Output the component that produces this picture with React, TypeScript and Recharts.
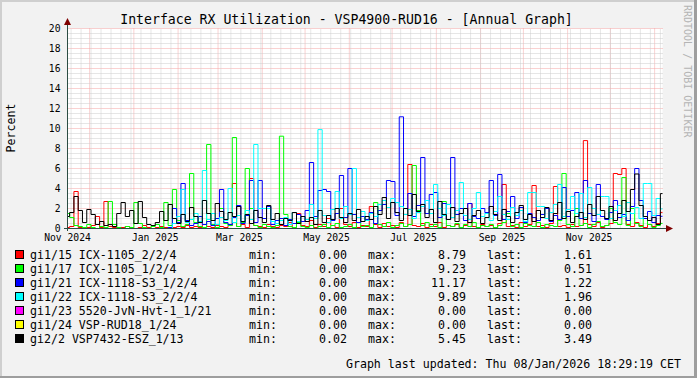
import { LineChart, Line, XAxis, YAxis, CartesianGrid, ReferenceLine } from "recharts";

// days counted from 1 Nov 2024; one sample every 3 days
const START_DAY = 14.5;
const STEP_DAYS = 3;
const END_DAY = 431.5;

const labelDays = [14.5, 76, 135, 196, 257, 319, 380];
const labelNames = ["Nov 2024", "Jan 2025", "Mar 2025", "May 2025", "Jul 2025", "Sep 2025", "Nov 2025"];
const monthStarts = [30, 61, 92, 120, 151, 181, 212, 242, 273, 304, 334, 365, 395, 426];
const yTicks = [0, 2, 4, 6, 8, 10, 12, 14, 16, 18, 20];

const red = [
  0.1, 0.2, 3.7, 0.1, 0.0, 0.1, 0.3, 1.2, 0.1, 2.7,
  0.2, 0.1, 0.0, 0.1, 0.2, 0.1, 0.0, 0.1, 0.3, 0.1,
  0.0, 0.1, 0.2, 0.1, 0.0, 0.1, 0.2, 0.1, 0.3, 0.1,
  0.2, 0.1, 0.4, 0.2, 0.1, 0.3, 0.2, 0.1, 0.3, 4.5,
  0.2, 0.4, 0.1, 5.0, 0.3, 0.2, 0.1, 0.4, 0.2, 0.1,
  0.3, 0.2, 0.6, 0.1, 1.5, 0.3, 0.2, 0.8, 0.1, 0.4,
  0.2, 1.0, 0.3, 0.1, 2.0, 0.4, 0.2, 0.6, 0.1, 0.3,
  0.2, 2.2, 0.4, 0.1, 0.5, 0.2, 0.3, 0.1, 0.6, 0.2,
  6.4, 0.3, 0.2, 0.5, 0.1, 0.4, 0.2, 0.6, 0.1, 0.3,
  0.2, 0.4, 0.1, 0.3, 2.5, 0.2, 0.1, 0.4, 0.2, 0.3,
  0.1, 0.5, 4.4, 0.2, 0.3, 0.1, 0.6, 0.2, 0.4, 4.3,
  0.2, 0.3, 0.1, 0.5, 4.2, 0.2, 0.3, 0.1, 0.4, 0.2,
  0.3, 8.79, 0.4, 0.2, 0.6, 0.1, 0.3, 0.5, 5.5, 5.4,
  6.0, 0.4, 0.2, 0.6, 0.3, 0.1, 0.4, 0.2, 0.5, 1.61,
];

const green = [
  1.5, 1.1, 0.3, 0.2, 0.1, 0.4, 0.1, 0.0, 0.2, 0.1,
  2.7, 0.4, 0.1, 0.0, 0.2, 0.1, 2.6, 0.5, 0.1, 0.0,
  0.2, 0.4, 0.1, 2.6, 0.3, 3.9, 0.8, 0.2, 0.4, 5.5,
  0.6, 0.2, 0.1, 8.4, 0.4, 0.1, 2.0, 0.5, 0.3, 9.1,
  0.2, 0.6, 6.0, 2.0, 0.3, 0.1, 0.4, 0.2, 0.1, 0.3,
  9.23, 1.4, 0.2, 0.1, 0.6, 0.2, 0.1, 0.3, 0.0, 0.2,
  0.4, 0.1, 0.3, 0.5, 0.1, 0.2, 0.4, 0.1, 0.6, 0.2,
  0.3, 0.1, 2.6, 0.4, 0.2, 0.6, 0.1, 0.3, 0.5, 0.2,
  0.4, 6.3, 1.8, 0.3, 0.6, 0.2, 0.4, 0.1, 2.7, 0.3,
  0.2, 0.5, 0.1, 0.4, 0.2, 0.6, 0.1, 0.3, 0.2, 0.4,
  0.1, 0.3, 0.6, 1.5, 0.2, 0.4, 0.1, 0.5, 0.3, 0.2,
  0.6, 0.1, 0.4, 0.3, 0.2, 0.8, 5.5, 0.4, 0.2, 2.0,
  0.3, 0.5, 0.1, 0.4, 0.7, 0.2, 0.3, 2.0, 0.6, 0.4,
  5.1, 0.3, 2.0, 0.5, 0.2, 1.0, 0.4, 0.1, 0.3, 0.51,
];

const blue = [
  0, 0, 0, 0, 0, 0, 0, 0, 0, 0,
  0, 0, 0, 0, 0, 0, 0, 0, 0, 0,
  0, 0, 0, 0, 0.1, 2.0, 0.6, 4.5, 0.8, 0.3,
  0.5, 1.2, 0.4, 0.7, 0.3, 1.0, 3.9, 0.6, 0.4, 1.1,
  2.3, 0.5, 1.3, 4.8, 0.6, 4.8, 1.0, 2.2, 0.4, 0.8,
  1.0, 0.3, 0.9, 0.5, 1.4, 0.7, 1.8, 6.6, 1.2, 3.8,
  3.9, 3.7, 0.8, 1.5, 5.3, 1.1, 6.0, 1.4, 0.6, 1.2,
  0.9, 1.6, 0.5, 1.8, 2.4, 4.8, 4.7, 1.3, 11.17, 2.0,
  3.5, 1.2, 2.3, 7.1, 1.5, 3.4, 3.6, 1.1, 2.5, 0.9,
  7.1, 1.4, 2.0, 0.8, 2.5, 1.2, 1.0, 2.0, 1.6, 4.8,
  1.3, 5.4, 0.9, 1.7, 3.2, 1.0, 2.1, 0.6, 1.5, 1.1,
  0.8, 1.4, 2.0, 0.7, 1.3, 0.9, 4.1, 1.2, 1.8, 3.6,
  1.0, 4.8, 1.5, 0.7, 4.4, 1.2, 0.9, 1.6, 2.8, 1.1,
  1.4, 0.8, 2.2, 6.0, 2.8, 1.0, 1.7, 0.6, 1.3, 1.22,
];

const cyan = [
  0, 0, 0, 0, 0, 0, 0, 0, 0, 0,
  0, 0, 0, 0, 0, 0, 0, 0, 0, 0,
  0, 0, 0, 0, 0, 0.5, 1.2, 3.9, 0.6, 0.9,
  1.5, 0.7, 5.8, 0.9, 1.5, 0.4, 1.1, 0.8, 4.0, 0.6,
  1.3, 0.7, 1.8, 0.9, 8.4, 2.0, 2.0, 2.0, 0.7, 0.5,
  0.8, 1.1, 0.4, 1.6, 0.7, 1.2, 0.9, 2.4, 1.0, 9.89,
  1.3, 0.6, 1.9, 3.7, 1.0, 2.2, 1.4, 6.0, 1.1, 1.7,
  0.8, 1.5, 1.2, 2.4, 2.8, 2.1, 3.0, 2.6, 2.2, 1.4,
  1.9, 1.0, 1.6, 2.2, 2.8, 1.5, 4.4, 2.0, 1.3, 2.4,
  1.1, 1.8, 4.6, 1.3, 0.9, 2.0, 3.6, 1.2, 1.5, 0.8,
  1.7, 3.2, 1.4, 0.9, 2.1, 1.3, 1.8, 0.7, 3.6, 3.6,
  2.2, 2.2, 1.0, 1.6, 2.4, 4.4, 1.2, 1.9, 3.2, 1.5,
  3.5, 1.1, 4.1, 2.0, 1.4, 3.2, 3.2, 1.0, 1.8, 2.3,
  1.2, 2.6, 1.5, 2.1, 1.0, 4.5, 4.5, 1.3, 3.0, 1.96,
];

// gi1/23 and gi1/24 stayed at 0.00 the whole year
const magenta = red.map(() => 0);
const yellow = red.map(() => 0);

const black = [
  1.2, 1.6, 3.2, 1.8, 0.6, 1.9, 1.4, 0.4, 0.7, 0.3,
  0.4, 0.2, 1.5, 2.6, 1.2, 1.8, 0.5, 2.7, 1.1, 0.4,
  0.3, 0.6, 1.7, 0.8, 2.4, 1.0, 0.5, 1.4, 0.7, 2.1,
  1.2, 0.6, 2.8, 1.5, 0.8, 2.5, 1.7, 0.9, 1.6, 1.2,
  2.2, 0.7, 1.4, 0.5, 1.8, 1.1, 0.6, 2.3, 0.9, 1.5,
  0.4, 1.0, 0.8, 1.6, 0.5, 1.2, 0.7, 1.1, 0.4, 1.8,
  0.6, 1.3, 0.9, 2.0, 1.1, 0.6, 1.5, 0.8, 1.9, 0.7,
  1.2, 0.9, 2.2, 1.4, 3.1, 1.0, 2.6, 1.6, 0.8, 2.0,
  1.3, 3.4, 1.7, 2.4, 1.1, 1.9, 0.6, 2.7, 1.4, 0.9,
  2.1, 0.7, 1.5, 2.0, 0.6, 1.3, 1.8, 0.5, 1.1, 2.2,
  1.4, 0.8, 1.9, 1.2, 0.6, 1.6, 2.3, 0.9, 1.4, 0.7,
  1.8, 1.1, 2.1, 0.8, 1.5, 2.6, 1.0, 1.7, 0.6, 1.2,
  1.6, 0.9, 2.4, 1.3, 3.2, 1.8, 1.0, 2.2, 0.8, 1.5,
  2.8, 1.7, 3.9, 5.45, 2.3, 1.2, 0.8, 1.1, 0.4, 3.49,
];

const seriesNames = [
  "gi1/15 ICX-1105_2/2/4",
  "gi1/17 ICX-1105_1/2/4",
  "gi1/21 ICX-1118-S3_1/2/4",
  "gi1/22 ICX-1118-S3_2/2/4",
  "gi1/23 5520-JvN-Hvt-1_1/21",
  "gi1/24 VSP-RUD18_1/24",
  "gi2/2 VSP7432-ESZ_1/13",
];
const seriesColors = ["#FF0000", "#00FF00", "#0000FF", "#00FFFF", "#FF00FF", "#FFFF00", "#000000"];
const seriesValues = [red, green, blue, cyan, magenta, yellow, black];
const minText = ["0.00", "0.00", "0.00", "0.00", "0.00", "0.00", "0.02"];
const maxText = ["8.79", "9.23", "11.17", "9.89", "0.00", "0.00", "5.45"];
const lastText = ["1.61", "0.51", "1.22", "1.96", "0.00", "0.00", "3.49"];

const rows = red.map((_, i) => {
  const row: Record<string, number> = { day: START_DAY + STEP_DAYS * i };
  seriesValues.forEach((s, k) => (row["s" + k] = s[i]));
  return row;
});

// minor grid: weekly verticals, every 0.5 % horizontally
const weekStarts: number[] = [];
for (let d = 17; d < END_DAY; d += 7) weekStarts.push(d);
const minorY: number[] = [];
for (let v = 0.5; v < 20; v += 0.5) if (v % 2 !== 0) minorY.push(v);

const MONO = "'DejaVu Sans Mono', monospace";
// half-pixel plot edges so horizontal grid lines land on pixel rows
const PLOT = { left: 67.5, right: 662.5, top: 28.5, bottom: 228.5 };
const MINOR = "#CDCDCD";
const MAJOR = "#F4A4A4";

export default function App() {
  return (
    <div style={{ position: "absolute", left: 0, top: 0, width: 697, height: 378, background: "#F2F2F2" }}>
      <div style={{ position: "absolute", left: 0, top: 0 }}>
        <LineChart
          width={697}
          height={378}
          data={rows}
          margin={{ top: PLOT.top, right: 697 - PLOT.right, bottom: 378 - PLOT.bottom - 20, left: PLOT.left - 30 }}
        >
          <CartesianGrid fill="#FFFFFF" stroke={MAJOR} strokeDasharray="1 1" verticalValues={monthStarts} />
          {minorY.map((v) => (
            <ReferenceLine key={"h" + v} y={v} stroke={MINOR} strokeDasharray="1 1" />
          ))}
          {weekStarts.map((d) => (
            <ReferenceLine key={"v" + d} x={d} stroke={MINOR} strokeDasharray="1 1" />
          ))}
          <XAxis
            dataKey="day"
            type="number"
            domain={[START_DAY, END_DAY]}
            ticks={labelDays}
            tickFormatter={(v: number) => labelNames[labelDays.indexOf(v)]}
            interval={0}
            height={20}
            axisLine={false}
            tickLine={false}
            tickSize={0}
            tickMargin={6}
            tick={{ fontFamily: MONO, fontSize: 9.7, fill: "#000" }}
          />
          <YAxis
            type="number"
            domain={[0, 20]}
            ticks={yTicks}
            interval={0}
            width={30}
            axisLine={false}
            tickLine={false}
            tickSize={0}
            tickMargin={7}
            tick={{ fontFamily: MONO, fontSize: 9.7, fill: "#000" }}
          />
          {seriesColors.map((c, k) => (
            <Line
              key={k}
              dataKey={"s" + k}
              type="step"
              stroke={c}
              strokeWidth={1}
              dot={false}
              activeDot={false}
              isAnimationActive={false}
            />
          ))}
        </LineChart>
      </div>
      <svg
        width={697}
        height={378}
        style={{ position: "absolute", left: 0, top: 0, pointerEvents: "none" }}
      >
        {/* frame shading */}
        <rect x={0} y={0} width={697} height={2} fill="#CFCFCF" />
        <rect x={0} y={0} width={2} height={378} fill="#CFCFCF" />
        <rect x={694} y={0} width={3} height={378} fill="#9E9E9E" />
        <rect x={0} y={376} width={697} height={2} fill="#9E9E9E" />

        {/* axes with arrows */}
        <line x1={64} y1={228.5} x2={667} y2={228.5} stroke="#2C4D43" />
        <line x1={67.5} y1={231} x2={67.5} y2={24} stroke="#2C4D43" />
        <polygon points="666,225 673,228.5 666,232" fill="#7F0000" />
        <polygon points="64,25 67.5,18 71,25" fill="#7F0000" />

        <text x={346.5} y={24} textAnchor="middle" fontFamily={MONO} fontSize={13.2} fill="#000">
          Interface RX Utilization - VSP4900-RUD16 - [Annual Graph]
        </text>
        <text
          transform="translate(15,128) rotate(-90)"
          textAnchor="middle"
          fontFamily={MONO}
          fontSize={11.6}
          fill="#000"
        >
          Percent
        </text>
        <text transform="translate(684,5) rotate(90)" fontFamily={MONO} fontSize={10} fill="#B4B4B4">
          RRDTOOL / TOBI OETIKER
        </text>

        {seriesNames.map((name, k) => {
          const y = 259 + 14 * k;
          return (
            <g key={k} fontFamily={MONO} fontSize={11.6} fill="#000">
              <rect x={15.5} y={y - 8.5} width={8} height={8} fill={seriesColors[k]} stroke="#000" />
              <text x={30} y={y}>{name}</text>
              <text x={249} y={y}>min:</text>
              <text x={347} y={y} textAnchor="end">{minText[k]}</text>
              <text x={368} y={y}>max:</text>
              <text x={466} y={y} textAnchor="end">{maxText[k]}</text>
              <text x={487} y={y}>last:</text>
              <text x={592} y={y} textAnchor="end">{lastText[k]}</text>
            </g>
          );
        })}
        <text x={681} y={368} textAnchor="end" fontFamily={MONO} fontSize={11.6} fill="#000">
          Graph last updated: Thu 08/Jan/2026 18:29:19 CET
        </text>
      </svg>
    </div>
  );
}
